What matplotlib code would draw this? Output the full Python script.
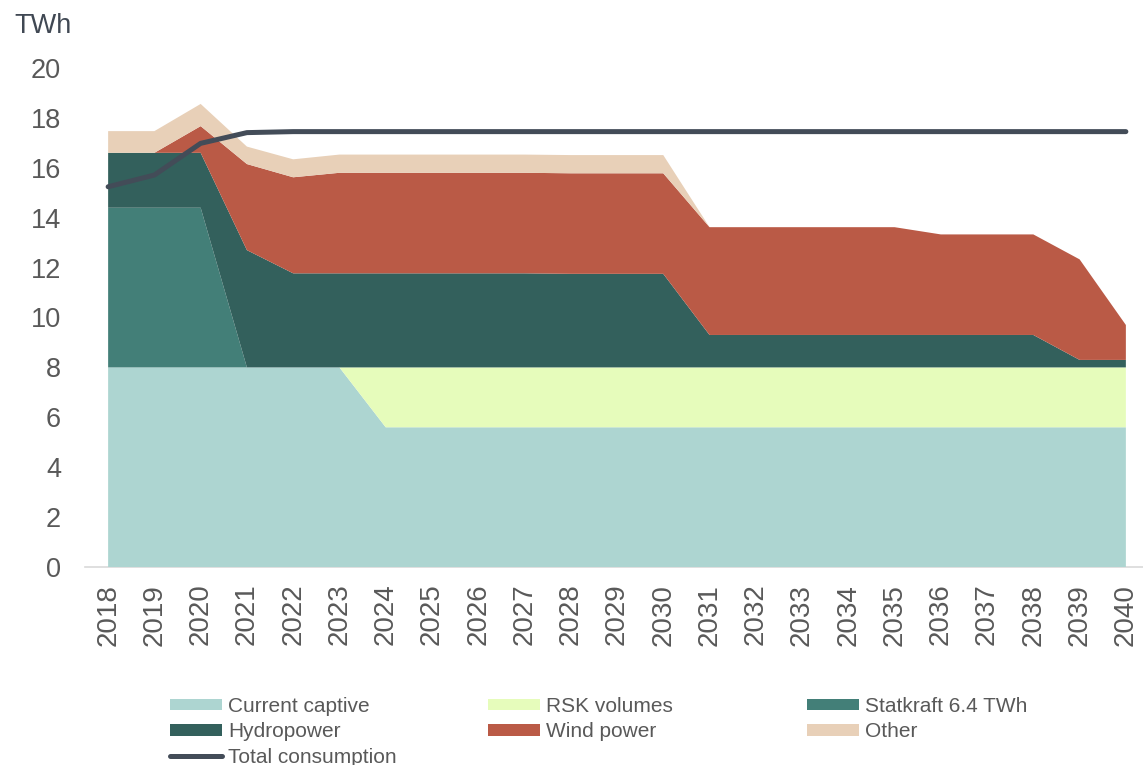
import matplotlib
matplotlib.use("Agg")
import matplotlib.pyplot as plt
from matplotlib.patches import Patch
from matplotlib.lines import Line2D
import numpy as np

plt.rcParams["font.family"] = ["Liberation Sans", "DejaVu Sans"]

years = list(range(2018, 2041))

current_captive = [8.0] * 6 + [5.6] * 17
rsk_volumes = [0.0] * 6 + [2.4] * 17
statkraft = [6.4, 6.4, 6.4] + [0.0] * 20
hydropower = [2.2, 2.2, 2.2, 4.7] + [3.77] * 6 + [3.75] * 3 + [1.3] * 8 + [0.3] * 2
wind_power = [0.0, 0.0, 1.07, 3.45, 3.85] + [4.03] * 8 + [4.32] * 5 + [4.03] * 4 + [1.4]
other = [0.87, 0.87, 0.89, 0.70, 0.72] + [0.73] * 8 + [0.0] * 10
total_consumption = [15.24, 15.71, 16.98, 17.41, 17.45] + [17.45] * 18

series_labels = ["Current captive", "RSK volumes", "Statkraft 6.4 TWh",
                 "Hydropower", "Wind power", "Other"]
series_colors = ["#ADD5D1", "#E6FCBB", "#437F78", "#33605C", "#BA5A46", "#E8D0B8"]
line_color = "#434C58"
text_color = "#595959"

W, H = 1143, 765
fig = plt.figure(figsize=(W / 100, H / 100), dpi=100)
ax = fig.add_axes([85 / W, (H - 567) / H, 1064 / W, 499 / H])

ax.stackplot(years, current_captive, rsk_volumes, statkraft, hydropower,
             wind_power, other, colors=series_colors, linewidth=0,
             labels=series_labels)
ax.plot(years, total_consumption, color=line_color, linewidth=3.6,
        solid_capstyle="round", label="Total consumption", zorder=5)

ax.set_xlim(2017.5, 2040.5)
ax.set_ylim(0, 20)
ax.set_yticks(range(0, 21, 2))
ax.set_xticks(years)
ax.set_xticklabels([str(y) for y in years], rotation=90)
ax.tick_params(axis="x", length=0, pad=12, labelsize=20, labelcolor=text_color)
ax.tick_params(axis="y", length=0, pad=17.3, labelsize=19.5, labelcolor=text_color)
for s in ("left", "right", "top"):
    ax.spines[s].set_visible(False)
ax.spines["bottom"].set_color("#D9D9D9")
ax.spines["bottom"].set_linewidth(1.2)
ax.spines["bottom"].set_zorder(0)

fig.text(43 / W, 1 - 26 / H, "TWh", fontsize=19.5, color="#404853",
         ha="center", va="center")

# Legend laid out in three equal-width columns, filled row by row
patch_handles = [Patch(facecolor=c, edgecolor="none", label=l)
                 for c, l in zip(series_colors, series_labels)]
line_handle = Line2D([0], [0], color=line_color, linewidth=3.6,
                     solid_capstyle="round", label="Total consumption")
columns = [
    [patch_handles[0], patch_handles[3], line_handle],
    [patch_handles[1], patch_handles[4]],
    [patch_handles[2], patch_handles[5]],
]
col_x = [170, 488, 807]
for cx, handles in zip(col_x, columns):
    fig.legend(handles=handles, loc="upper left",
               bbox_to_anchor=(cx / W, 1 - 697 / H),
               frameon=False, borderpad=0, borderaxespad=0,
               fontsize=15, handlelength=2.5, handleheight=0.48,
               handletextpad=0.29, labelspacing=0.31,
               labelcolor=text_color)

fig.savefig("out.png", dpi=100)
